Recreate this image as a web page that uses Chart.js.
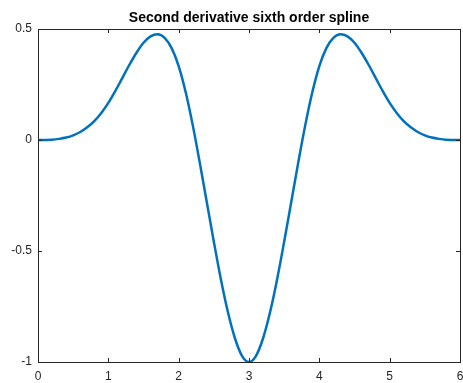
<!DOCTYPE html>
<html>
<head>
<meta charset="utf-8">
<script src="https://cdn.jsdelivr.net/npm/chart.js@4/dist/chart.umd.min.js"></script>
<style>
  html, body { margin: 0; padding: 0; background: #fff; }
  #wrap { width: 463px; height: 383px; }
</style>
</head>
<body>
<div id="wrap"><canvas id="spline-chart" width="463" height="383"></canvas></div>
<script>
// values, x step 0.1
const xValues = [
  0, 0.1, 0.2, 0.3, 0.4, 0.5, 0.6, 0.7, 0.8, 0.9,
  1, 1.1, 1.2, 1.3, 1.4, 1.5, 1.6, 1.7, 1.8, 1.9,
  2, 2.1, 2.2, 2.3, 2.4, 2.5, 2.6, 2.7, 2.8, 2.9,
  3, 3.1, 3.2, 3.3, 3.4, 3.5, 3.6, 3.7, 3.8, 3.9,
  4, 4.1, 4.2, 4.3, 4.4, 4.5, 4.6, 4.7, 4.8, 4.9,
  5, 5.1, 5.2, 5.3, 5.4, 5.5, 5.6, 5.7, 5.8, 5.9, 6
];
const yValues = [
  0, 0.0002, 0.001, 0.005, 0.011, 0.021, 0.036, 0.057, 0.085, 0.122,
  0.167, 0.221, 0.280, 0.339, 0.393, 0.438, 0.467, 0.476, 0.460, 0.414,
  0.333, 0.215, 0.067, -0.102, -0.280, -0.458, -0.627, -0.775, -0.893, -0.972,
  -1.000, -0.972, -0.893, -0.775, -0.627, -0.458, -0.280, -0.102, 0.067, 0.215,
  0.333, 0.414, 0.460, 0.476, 0.467, 0.438, 0.393, 0.339, 0.280, 0.221,
  0.167, 0.122, 0.085, 0.057, 0.036, 0.021, 0.011, 0.005, 0.001, 0.0002, 0
];
const xTicks = [0, 1, 2, 3, 4, 5, 6];
const yTicks = [-1, -0.5, 0, 0.5];
const chartTitle = "Second derivative sixth order spline";

const axisColor = "#262626";

// box around the axes + inward tick marks on all four sides
const boxAxes = {
  id: "boxAxes",
  afterDraw(chart) {
    const { ctx, chartArea: a, scales } = chart;
    const len = 4;
    ctx.save();
    ctx.strokeStyle = axisColor;
    ctx.lineWidth = 1;
    ctx.beginPath();
    xTicks.forEach(v => {
      const px = Math.round(scales.x.getPixelForValue(v)) + 0.5;
      ctx.moveTo(px, a.bottom); ctx.lineTo(px, a.bottom - len);
      ctx.moveTo(px, a.top); ctx.lineTo(px, a.top + len);
    });
    yTicks.forEach(v => {
      const py = Math.round(scales.y.getPixelForValue(v)) + 0.5;
      ctx.moveTo(a.left, py); ctx.lineTo(a.left + len, py);
      ctx.moveTo(a.right, py); ctx.lineTo(a.right - len, py);
    });
    ctx.stroke();
    ctx.strokeRect(Math.round(a.left) + 0.5, Math.round(a.top) + 0.5,
      Math.round(a.right - a.left), Math.round(a.bottom - a.top));
    ctx.restore();
  }
};

const fontFamily = '"Liberation Sans", Arial, Helvetica, sans-serif';

new Chart(document.getElementById("spline-chart").getContext("2d"), {
  type: "line",
  data: {
    datasets: [{
      data: xValues.map((x, i) => ({ x: x, y: yValues[i] })),
      borderColor: "#0072BD",
      borderWidth: 2.5,
      pointRadius: 0,
      cubicInterpolationMode: "monotone",
      fill: false
    }]
  },
  options: {
    responsive: false,
    animation: false,
    layout: { padding: { left: 0, right: 3, top: 0, bottom: 0 } },
    plugins: {
      legend: { display: false },
      tooltip: { enabled: false },
      title: {
        display: true,
        text: chartTitle,
        fullSize: false,
        color: "#000",
        font: { family: fontFamily, size: 14, weight: "bold" },
        padding: { top: 9.7, bottom: 2.5 }
      }
    },
    scales: {
      x: {
        type: "linear",
        min: 0, max: 6,
        grid: { display: false, drawTicks: false },
        border: { display: false },
        afterBuildTicks: s => { s.ticks = xTicks.map(v => ({ value: v })); },
        afterFit: s => { s.height = 21; s.paddingLeft = 0; s.paddingRight = 0; },
        ticks: {
          color: axisColor,
          padding: 7,
          maxRotation: 0,
          font: { family: fontFamily, size: 12 },
          callback: v => String(v)
        }
      },
      y: {
        min: -1, max: 0.5,
        grid: { display: false, drawTicks: false },
        border: { display: false },
        afterBuildTicks: s => { s.ticks = yTicks.map(v => ({ value: v })); },
        afterFit: s => { s.width = 38; s.paddingTop = 0; s.paddingBottom = 0; },
        ticks: {
          color: axisColor,
          padding: 6,
          font: { family: fontFamily, size: 12 },
          callback: v => String(v)
        }
      }
    }
  },
  plugins: [boxAxes]
});
</script>
</body>
</html>
